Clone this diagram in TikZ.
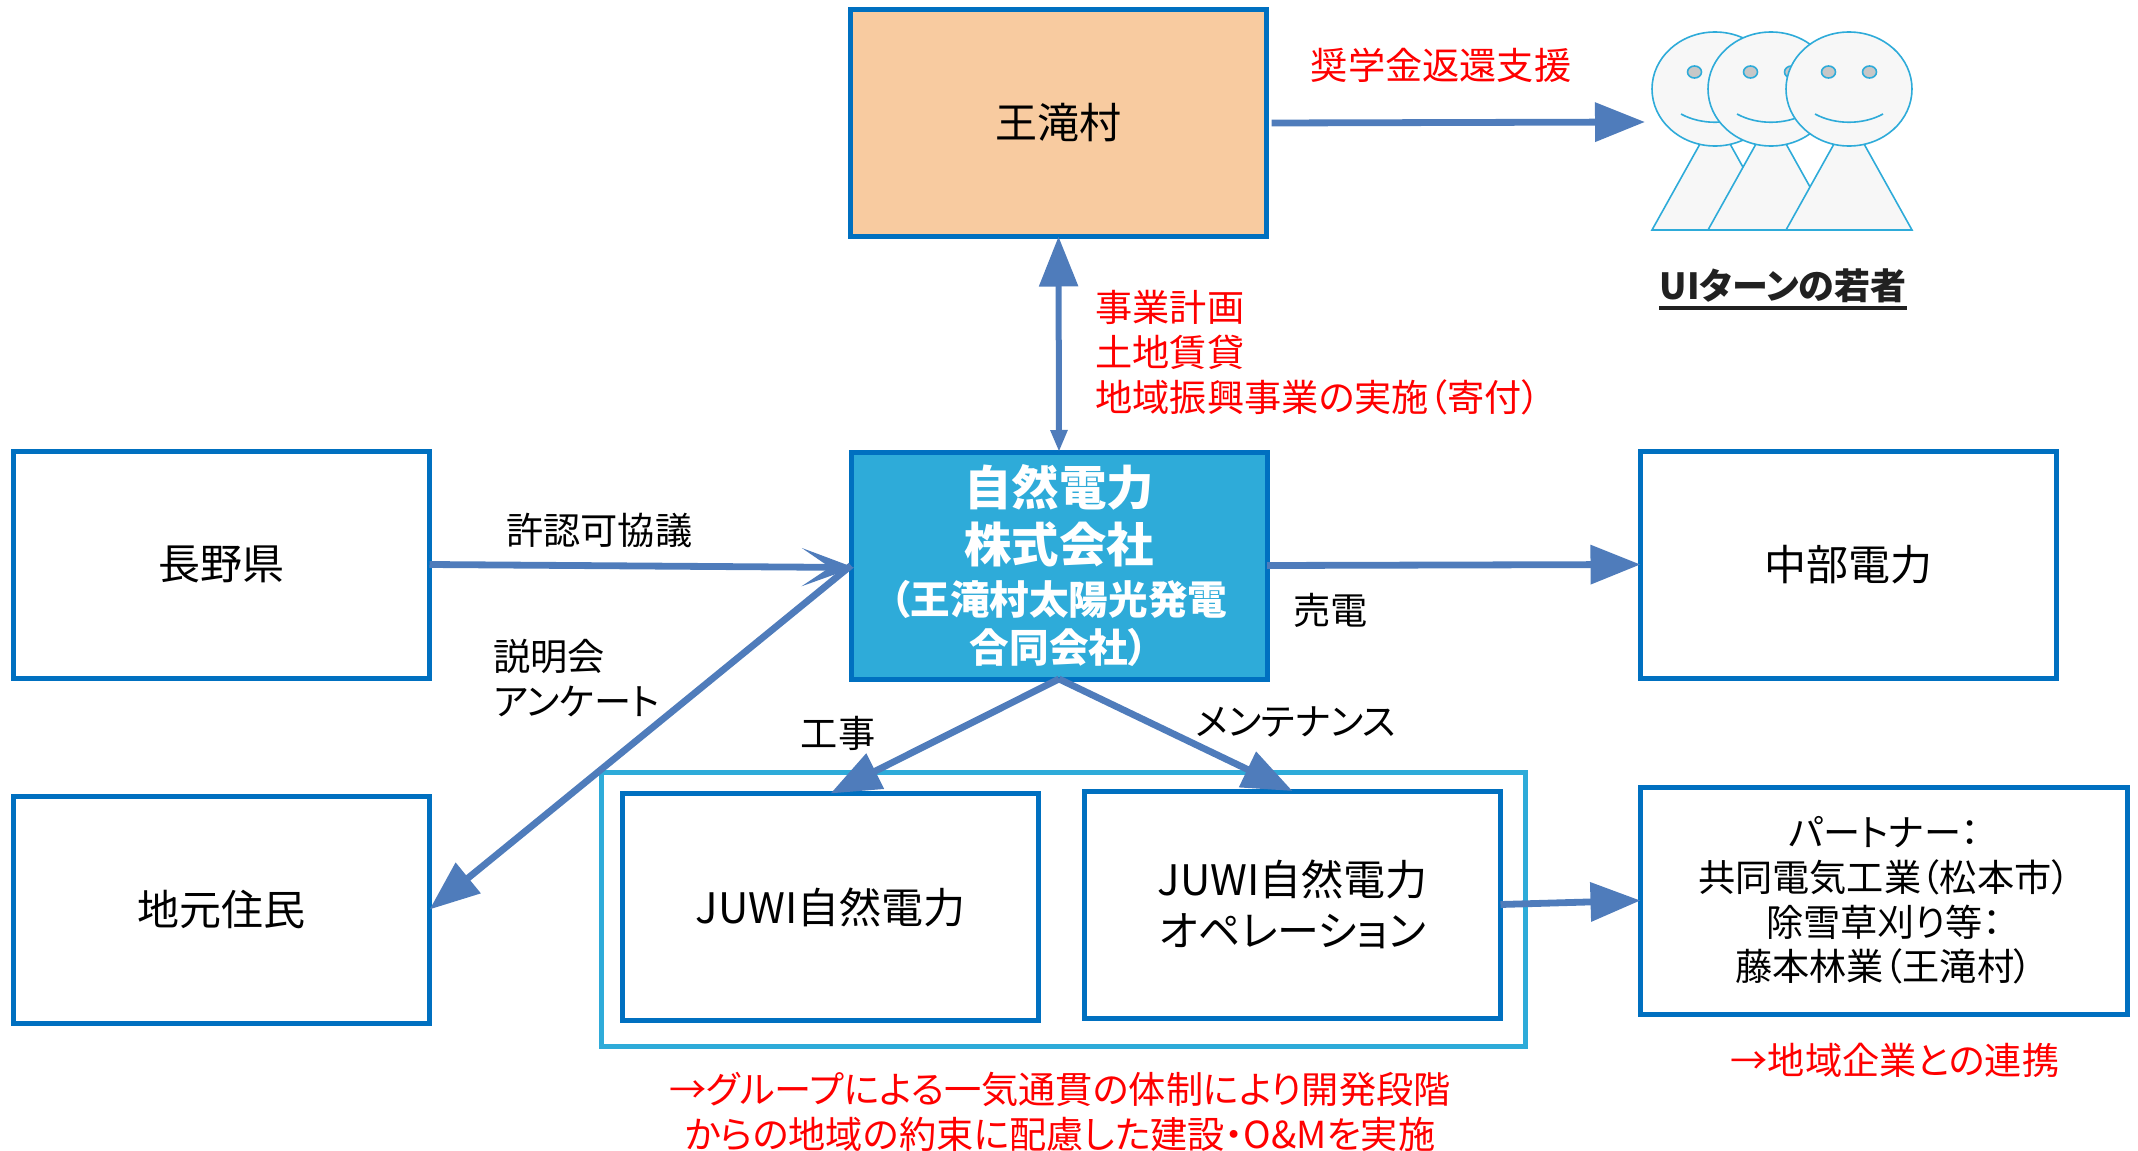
\documentclass[tikz,border=0pt]{standalone}
\usepackage{fontspec}
\setmainfont{Noto Sans CJK JP}[RawFeature=+palt]
\usepackage{xcolor}
\usetikzlibrary{arrows.meta,calc,positioning}
\definecolor{boxline}{HTML}{0070C0}
\definecolor{skyline}{HTML}{2EABD9}
\definecolor{flowline}{HTML}{4F7CBB}
\definecolor{orangefill}{HTML}{F8CBA0}
\tikzset{
  box/.style={rectangle,draw=boxline,line width=2.5pt,outer sep=0pt,inner sep=0pt,
    minimum width=208pt,minimum height=113.5pt,align=center,font=\fontsize{21}{25.2}\selectfont},
  flow/.style={draw=flowline,line width=3.4pt,-{Triangle[length=25pt,width=19pt]}},
  flowopen/.style={draw=flowline,line width=3.4pt,-{Stealth[length=26pt,width=19pt,inset=14pt]}},
  lbl/.style={inner sep=0pt,align=left,font=\fontsize{18.6}{22.4}\selectfont},
  redlbl/.style={lbl,text=red},
  person/.style={draw=skyline,line width=0.8pt,fill=black!3}
}
\begin{document}
\begin{tikzpicture}[x=0.5pt,y=-0.5pt]
  \useasboundingbox (0,0) rectangle (2138,1151);
  \node[rectangle,draw=skyline,line width=2.5pt,outer sep=0pt,minimum width=462pt,minimum height=137pt]
    (group) at (1063.5,909) {};
  \node[box,fill=orangefill] (otaki) at (1058.5,123) {王滝村};
  \node[box,fill=skyline,text=white,font=\bfseries] (shizen) at (1059,565.5) {%
    \fontsize{23.7}{29}\selectfont 自然電力\\[5pt]
    \fontsize{23.7}{29}\selectfont 株式会社\\[5.5pt]
    \fontsize{19.8}{24}\selectfont （王滝村太陽光発電\\[4pt]
    \fontsize{19.8}{24}\selectfont 合同会社）};
  \node[box] (nagano) at (221.5,564.5) {長野県};
  \node[box] (chubu) at (1848.5,564.5) {中部電力};
  \node[box] (jumin) at (221.5,909.5) {地元住民};
  \node[box] (juwi) at (830.5,907) {JUWI自然電力};
  \node[box] (juwiop) at (1292.5,904.5) {JUWI自然電力\\オペレーション};
  \node[box,minimum width=243.5pt,font=\fontsize{18.6}{22.3}\selectfont] (partner) at (1884,900.5)
    {\raisebox{-1.5pt}{パートナー：}\\\raisebox{-1.5pt}{共同電気工業（松本市）}\\\raisebox{-1.5pt}{除雪草刈り等：}\\\raisebox{-1.5pt}{藤本林業（王滝村）}};
  % people
  \foreach \px in {1715,1771,1849} {
    \begin{scope}[xshift=\px*0.5pt,yshift=-44.5pt]
      \draw[person] (-63,141) -- (0,28) -- (63,141) -- cycle;
      \draw[person] (0,0) ellipse (31.5pt and 28.5pt);
      \draw[person,fill=black!22] (-20.5,-17) ellipse (3.5pt and 3pt);
      \draw[person,fill=black!22] (20.5,-17) ellipse (3.5pt and 3pt);
      \draw[draw=skyline,line width=0.8pt] (-34,25) .. controls (-14,36) and (14,36) .. (34,25);
    \end{scope}
  }
  \coordinate (ui) at (1645,122);
  \node[inner sep=0pt,text=black!87,font=\fontsize{18}{20}\selectfont\bfseries] (uilabel) at (1783,286)
    {UIターンの若者};
  \draw[line width=2pt,black!87] ($(uilabel.south west)+(0,4)$) -- ($(uilabel.south east)+(0,4)$);
  % connectors
  \draw[flow] (otaki.east) ++(5,0) coordinate (otakiout) -- (ui);
  \draw[draw=flowline,line width=3pt,{Triangle[length=25pt,width=19pt]}-{Triangle[length=11pt,width=8pt]}]
    (otaki.south) -- (shizen.north);
  \draw[flowopen] (nagano.east) -- node[above=7.5pt,pos=0.4,lbl]{許認可協議} ($(shizen.west)+(3,2)$);
  \draw[flow] (shizen.west) -- (jumin.east);
  \draw[flow] (shizen.east) -- node[below=12.5pt,pos=0.17,lbl]{売電} (chubu.west);
  \draw[flow] (shizen.south) -- (juwi.north);
  \draw[flow] (shizen.south) -- (juwiop.north);
  \draw[flow] (juwiop.east) -- (partner.west);
  % labels
  \node[redlbl] (shogaku) at (1441,65) {奨学金返還支援};
  \node[redlbl,anchor=west] (keikaku) at (1095,352.5) {事業計画\\土地賃貸\\地域振興事業の実施（寄付）};
  \node[lbl,anchor=west] (setsumei) at (493,678) {説明会\\アンケート};
  \node[lbl] (koji) at (838,733) {工事};
  \node[lbl] (mainte) at (1296,722) {メンテナンス};
  \node[redlbl,align=center] (ikkan) at (1060,1112)
    {→グループによる一気通貫の体制により開発段階\\からの地域の約束に配慮した建設・O\&Mを実施};
  \node[redlbl] (renkei) at (1895,1060) {→地域企業との連携};
\end{tikzpicture}
\end{document}
